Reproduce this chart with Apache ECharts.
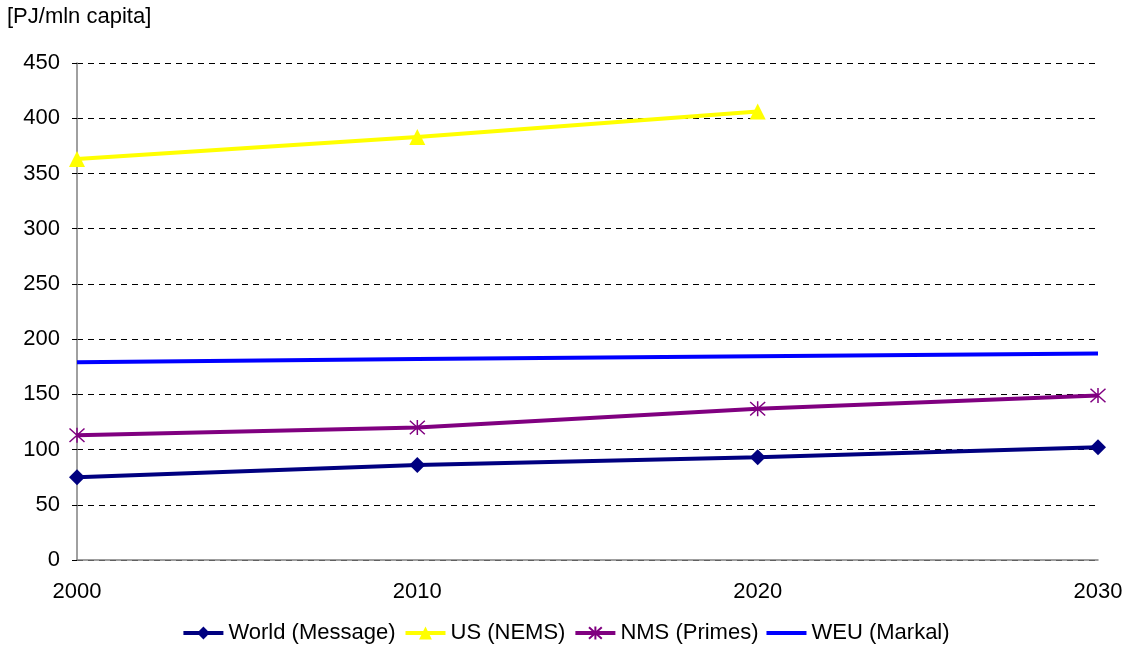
<!DOCTYPE html>
<html>
<head>
<meta charset="utf-8">
<script src="https://cdn.jsdelivr.net/npm/echarts@6/dist/echarts.min.js"></script>
<style>html,body{margin:0;padding:0;background:#fff}#c{width:1131px;height:648px}</style>
</head>
<body>
<div id="c"></div>
<script>
const years = ['2000', '2010', '2020', '2030'];
const world = [75, 86, 93, 102];
const us = [363, 383, 406, null];
const nms = [113, 120, 137, 149];
const weu = [179, 182, 184.5, 187];
const yTicks = [0, 50, 100, 150, 200, 250, 300, 350, 400, 450];

const font = 'Liberation Sans, Arial, sans-serif';
const star = 'path://M5,0L5,10M0.5,0.5L9.5,9.5M0.5,9.5L9.5,0.5';

const chart = echarts.init(document.getElementById('c'));
chart.setOption({
  animation: false,
  backgroundColor: '#fff',
  textStyle: { fontFamily: font },
  graphic: [{ type: 'text', left: 7, top: 6, style: { text: '[PJ/mln capita]', font: '22px ' + font, fill: '#000' } }],
  grid: { left: 77, right: 33, top: 63, bottom: 88, containLabel: false },
  legend: {
    bottom: -1, left: 'center', itemWidth: 40, itemHeight: 16, itemGap: 8,
    symbolKeepAspect: true,
    lineStyle: { width: 4 },
    textStyle: { fontSize: 22, color: '#000', fontFamily: font },
    data: ['World (Message)', 'US (NEMS)', 'NMS (Primes)',
      { name: 'WEU (Markal)', icon: 'path://M0,0L40,0L40,4L0,4Z' }]
  },
  xAxis: {
    type: 'category', data: years, boundaryGap: false,
    axisLine: { lineStyle: { color: '#808080', width: 1.5 } },
    axisTick: { show: false },
    axisLabel: { fontSize: 22, color: '#000', margin: 21, fontFamily: font,
      align: 'center' },
    splitLine: { show: false }
  },
  yAxis: {
    type: 'value', min: 0, max: 450, interval: 50,
    axisLine: { show: true, lineStyle: { color: '#808080', width: 1.5 } },
    axisTick: { show: true, length: 5, lineStyle: { color: '#000' } },
    axisLabel: { fontSize: 22, color: '#000', margin: 17, fontFamily: font,
      formatter: v => yTicks.includes(v) ? String(v) : '' },
    splitLine: { show: true, lineStyle: { color: '#000', type: [6, 5], width: 1 } }
  },
  series: [
    { name: 'World (Message)', type: 'line', data: world, color: '#000080',
      symbol: 'diamond', symbolSize: 16, lineStyle: { width: 4, color: '#000080' },
      itemStyle: { color: '#000080' } },
    { name: 'US (NEMS)', type: 'line', data: us, color: '#ffff00',
      symbol: 'triangle', symbolSize: 16, lineStyle: { width: 4, color: '#ffff00' },
      itemStyle: { color: '#ffff00' } },
    { name: 'NMS (Primes)', type: 'line', data: nms, color: '#800080',
      symbol: star, symbolSize: 15, lineStyle: { width: 4, color: '#800080' },
      itemStyle: { color: 'none', borderColor: '#800080', borderWidth: 1.5 } },
    { name: 'WEU (Markal)', type: 'line', data: weu, color: '#0000ff',
      symbol: 'none', lineStyle: { width: 4, color: '#0000ff' } }
  ]
});
</script>
</body>
</html>
